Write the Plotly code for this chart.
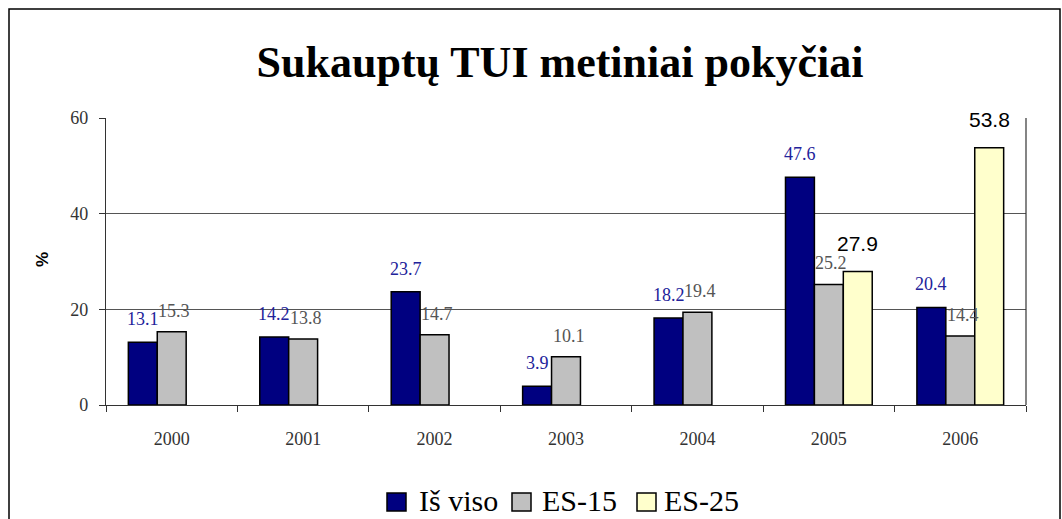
import plotly.graph_objects as go

years = ["2000", "2001", "2002", "2003", "2004", "2005", "2006"]
is_viso = [13.1, 14.2, 23.7, 3.9, 18.2, 47.6, 20.4]
es15 = [15.3, 13.8, 14.7, 10.1, 19.4, 25.2, 14.4]
es25 = [None, None, None, None, None, 27.9, 53.8]
series_names = ["Iš viso", "ES-15", "ES-25"]
y_ticks = [0, 20, 40, 60]

W, H = 1062, 519
L, R, T, B = 106, 36, 118, 114
pw, ph = W - L - R, H - T - B


def px(x):
    return (x - L) / pw


def py(y):
    return (H - B - y) / ph


serif = "Liberation Serif"
colors = ["#000080", "#C0C0C0", "#FFFFCC"]
series = [is_viso, es15, es25]

fig = go.Figure()
for name, vals, col in zip(series_names, series, colors):
    fig.add_trace(go.Bar(
        x=years, y=vals, name=name,
        marker=dict(color=col, line=dict(color="black", width=1.5)),
        hoverinfo="x+y", showlegend=False,
    ))

label_styles = [
    dict(font=dict(family=serif, size=18, color="#22229a"), yshift=23, off=-0.22),
    dict(font=dict(family=serif, size=18, color="#555555"), yshift=21, off=0.02),
    dict(font=dict(family="Liberation Sans", size=21, color="#000000"), yshift=28, off=0.22),
]
annotations = []
for vals, st in zip(series, label_styles):
    for i, v in enumerate(vals):
        if v is None:
            continue
        annotations.append(dict(
            x=i + st["off"], y=v, xref="x", yref="y", text=f"{v:.1f}",
            showarrow=False, yanchor="middle", xanchor="center",
            yshift=st["yshift"], font=st["font"],
        ))

# y-axis title
annotations.append(dict(
    x=px(42), y=py(260), xref="paper", yref="paper",
    text="<b>%</b>", showarrow=False, textangle=-90,
    xanchor="center", yanchor="middle",
    font=dict(family="Liberation Sans", size=17, color="black"),
))

shapes = [
    # outer chart border
    dict(type="rect", xref="paper", yref="paper",
         x0=px(9), x1=px(1060), y0=py(530), y1=py(9),
         line=dict(color="black", width=1.5), fillcolor="rgba(0,0,0,0)", layer="below"),
    # plot area right border
    dict(type="line", xref="paper", yref="paper", x0=1, x1=1, y0=0, y1=1,
         line=dict(color="#333333", width=1.2)),
]

# custom legend (larger swatches like the reference)
legend_sq_x = [387, 512, 637]
legend_tx_x = [417, 540, 662]
for name, col, sx, tx in zip(series_names, colors, legend_sq_x, legend_tx_x):
    shapes.append(dict(type="rect", xref="paper", yref="paper",
                       x0=px(sx), x1=px(sx + 19), y0=py(511), y1=py(493),
                       line=dict(color="black", width=1.5), fillcolor=col))
    annotations.append(dict(x=px(tx), y=py(500), xref="paper", yref="paper",
                            text=name, showarrow=False, xanchor="left", yanchor="middle",
                            font=dict(family=serif, size=30, color="black")))

fig.update_layout(
    width=W, height=H,
    margin=dict(l=L, r=R, t=T, b=B, pad=0, autoexpand=False),
    paper_bgcolor="white", plot_bgcolor="white",
    barmode="group", bargap=0.34, bargroupgap=0,
    title=dict(text="<b>Sukauptų TUI metiniai pokyčiai</b>",
               x=560 / W, xanchor="center", y=(H - 62) / H, yanchor="middle",
               font=dict(family=serif, size=44, color="black")),
    showlegend=False,
    xaxis=dict(type="category", showline=True, linecolor="#333333", linewidth=1.2,
               ticks="outside", tickson="boundaries", ticklen=6, tickcolor="#333333",
               tickfont=dict(family=serif, size=18, color="#333333"),
               ticklabelstandoff=17,
               showgrid=False, fixedrange=True),
    yaxis=dict(range=[0, 60], tickvals=y_ticks, showline=True, linecolor="#333333",
               linewidth=1.2, ticks="outside", ticklen=6, tickcolor="#333333",
               tickfont=dict(family=serif, size=18, color="#333333"),
               ticklabelstandoff=7,
               showgrid=True, gridcolor="#555555", gridwidth=1, zeroline=False,
               fixedrange=True),
    annotations=annotations,
    shapes=shapes,
)

fig.write_html("out.html", config={"displayModeBar": False},
               post_script="document.body.style.margin='0';document.body.style.overflow='hidden';")
